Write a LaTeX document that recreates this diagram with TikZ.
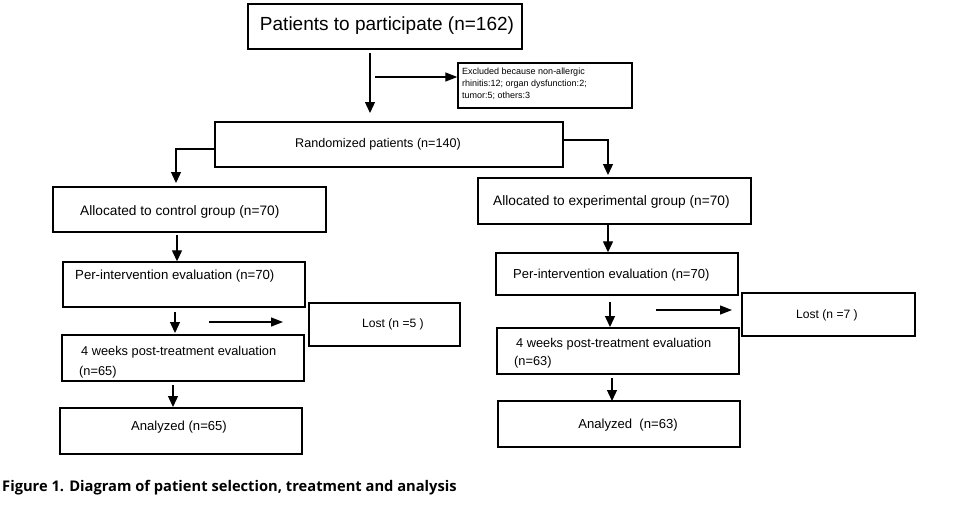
\documentclass[tikz,border=0pt]{standalone}
\usepackage{fontspec}
\setmainfont{Liberation Sans}
\newfontfamily\capfont{Open Sans}
\usetikzlibrary{arrows.meta,calc}
\tikzset{
  box/.style={draw, line width=1.4pt, rectangle, inner sep=0pt},
  txt/.style={inner sep=0pt, font=\fontsize{13}{15}\selectfont},
  arr/.style={line width=1.3pt, -{Triangle[length=11pt,width=10pt]}},
  harr/.style={line width=1.3pt, -{Triangle[length=12pt,width=9pt]}},
}
\newcommand{\bx}[5]{\node[box, minimum width=#3-#2, minimum height=#5-#4] (#1) at ({(#2+#3)/2},{(#4+#5)/2}) {};}
\begin{document}
\begin{tikzpicture}[x=1pt,y=-1pt]
\useasboundingbox (0,0) rectangle (974,515);
% boxes
\bx{pat}{248}{522}{4}{49}
\bx{excl}{458}{632}{63}{108}
\bx{rand}{215}{563}{122}{167}
\bx{ctrl}{53}{326}{187}{232}
\bx{exp}{478}{751}{178}{224}
\bx{perL}{63}{305}{262}{307}
\bx{perR}{496}{738}{253}{295}
\bx{lostL}{309}{460}{303}{346}
\bx{lostR}{742}{915}{293}{336}
\bx{wkL}{62}{304}{335}{381}
\bx{wkR}{497}{739}{328}{374}
\bx{anL}{60}{302}{408}{454}
\bx{anR}{498}{740}{401}{447}
% texts
\node[txt, font=\fontsize{19}{22}\selectfont] (tpat) at (387,26) {Patients to participate (n=162)};
\node[txt, anchor=west, align=left, font=\fontsize{9}{12}\selectfont] (texcl) at (462,84) {Excluded because non-allergic\\rhinitis:12; organ dysfunction:2;\\tumor:5; others:3};
\node[txt, anchor=west, font=\fontsize{12.6}{15}\selectfont] (trand) at (295,144) {Randomized patients (n=140)};
\node[txt, anchor=west, font=\fontsize{13.7}{16}\selectfont] (tctrl) at (80,212) {Allocated to control group (n=70)};
\node[txt, anchor=west, font=\fontsize{13.7}{16}\selectfont] (texp) at (493,202) {Allocated to experimental group (n=70)};
\node[txt, anchor=west, font=\fontsize{13.2}{16}\selectfont] (tperL) at (75,276) {Per-intervention evaluation (n=70)};
\node[txt, anchor=west, font=\fontsize{13}{16}\selectfont] (tperR) at (513,275) {Per-intervention evaluation (n=70)};
\node[txt, font=\fontsize{12.1}{15}\selectfont] (tlostL) at (393,324) {Lost (n =5 )};
\node[txt, font=\fontsize{12.1}{15}\selectfont] (tlostR) at (827,315) {Lost (n =7 )};
\node[txt, anchor=west, font=\fontsize{12.8}{15}\selectfont] (twkL1) at (81,352) {4 weeks post-treatment evaluation};
\node[txt, anchor=west, font=\fontsize{12.8}{15}\selectfont] (twkL2) at (79,372) {(n=65)};
\node[txt, anchor=west, font=\fontsize{12.8}{15}\selectfont] (twkR1) at (516,344) {4 weeks post-treatment evaluation};
\node[txt, anchor=west, font=\fontsize{12.8}{15}\selectfont] (twkR2) at (514,362) {(n=63)};
\node[txt, font=\fontsize{13.1}{16}\selectfont] (tanL) at (179,427) {Analyzed (n=65)};
\node[txt, font=\fontsize{13.1}{16}\selectfont] (tanR) at (628,425) {Analyzed\ \ (n=63)};
\node[inner sep=0pt, anchor=west, font=\capfont\bfseries\fontsize{14.7}{17}\selectfont] (cap) at (2,488) {Figure 1. Diagram of patient selection, treatment and analysis};
% arrow coordinates
\coordinate (a1) at (370,53);
\coordinate (a1e) at (370,113);
\coordinate (a2) at (375,77);
\coordinate (a3) at (176,149);
\coordinate (a3e) at (176,183);
\coordinate (a4) at (608,140);
\coordinate (a4e) at (608,175);
\coordinate (a5) at (177,235);
\coordinate (a6) at (175,312);
\coordinate (a6e) at (175,333);
\coordinate (a7) at (209,322);
\coordinate (a7e) at (283,322);
\coordinate (a8) at (173,385);
\coordinate (a8e) at (173,407);
\coordinate (a9) at (608,224);
\coordinate (a10) at (610,302);
\coordinate (a10e) at (610,327);
\coordinate (a11) at (656,310);
\coordinate (a11e) at (732,310);
\coordinate (a12) at (612,378);
\coordinate (a12e) at (612,401);
% connectors
\draw[arr] (a1) -- (a1e);
\draw[harr] (a2) -- (excl.west |- a2);
\draw[arr] (rand.west |- a3) -- (a3) -- (a3e);
\draw[arr] (rand.east |- a4) -- (a4) -- (a4e);
\draw[arr] (a5) -- (perL.north -| a5);
\draw[arr] (a6) -- (a6e);
\draw[harr] (a7) -- (a7e);
\draw[arr] (a8) -- (a8e);
\draw[arr] (exp.south -| a9) -- (perR.north -| a9);
\draw[arr] (a10) -- (a10e);
\draw[harr] (a11) -- (a11e);
\draw[arr] (a12) -- (a12e);
\end{tikzpicture}
\end{document}
